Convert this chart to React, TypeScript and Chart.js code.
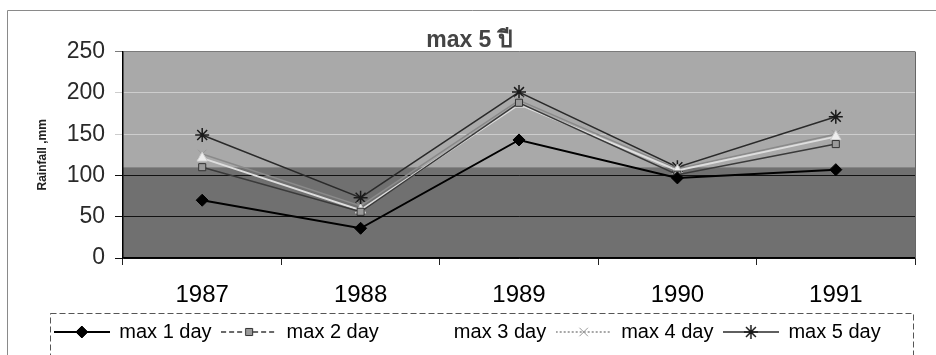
import React, { useEffect, useRef } from 'react';
import { Chart, registerables } from 'chart.js';
import { drawPoint } from 'chart.js/helpers';

Chart.register(...registerables);

const categories = ['1987', '1988', '1989', '1990', '1991'];
const max1Day = [70, 36, 143, 97, 107];
const max2Day = [110, 56, 188, 101, 138];
const max3Day = [121, 58, 186, 106, 147];
const max4Day = [126, 63, 191, 108, 150];
const max5Day = [149, 73, 201, 110, 171];
const seriesNames = ['max 1 day', 'max 2 day', 'max 3 day', 'max 4 day', 'max 5 day'];
const yTickValues = [0, 50, 100, 150, 200, 250];
const chartTitle = 'max 5 ปี';
const yAxisTitle = 'Rainfall ,mm';

const FONT = '"Liberation Sans", Arial, Helvetica, sans-serif';

type Style = {
  line: string;
  width: number;
  dash: number[];
  legendDash: number[];
  point: string;
  radius: number;
  bg: string;
  border: string;
};

const styles: Style[] = [
  { line: '#000000', width: 2, dash: [], legendDash: [], point: 'rectRot', radius: 6, bg: '#000000', border: '#000000' },
  { line: '#3a3a3a', width: 1.5, dash: [], legendDash: [5, 3], point: 'rect', radius: 5, bg: '#9a9a9a', border: '#333333' },
  { line: '#dedede', width: 2, dash: [], legendDash: [], point: 'triangle', radius: 6, bg: '#eeeeee', border: '#cfcfcf' },
  { line: '#8a8a8a', width: 1.5, dash: [], legendDash: [2, 2], point: 'crossRot', radius: 6, bg: '#aaaaaa', border: '#999999' },
  { line: '#2a2a2a', width: 1.5, dash: [], legendDash: [], point: 'star', radius: 7, bg: '#2a2a2a', border: '#1a1a1a' },
];

function makeIcon(s: Style, i: number): HTMLCanvasElement {
  const c = document.createElement('canvas');
  c.width = 56;
  c.height = 18;
  const ctx = c.getContext('2d')!;
  if (i !== 2) {
    ctx.strokeStyle = s.line;
    ctx.lineWidth = s.width;
    ctx.setLineDash(s.legendDash);
    ctx.beginPath();
    ctx.moveTo(0, 9);
    ctx.lineTo(56, 9);
    ctx.stroke();
    ctx.setLineDash([]);
    ctx.fillStyle = s.bg;
    ctx.strokeStyle = s.border;
    ctx.lineWidth = i === 4 ? 1.5 : 1;
    drawPoint(ctx, { pointStyle: s.point as any, radius: s.radius, borderWidth: 1, rotation: 0 } as any, 28, 9);
  }
  return c;
}

export default function App() {
  const ref = useRef<HTMLCanvasElement | null>(null);

  useEffect(() => {
    if (!ref.current) return;
    const seriesValues = [max1Day, max2Day, max3Day, max4Day, max5Day];
    const icons = styles.map((s, i) => makeIcon(s, i));

    const bgPlugin = {
      id: 'bgPlugin',
      beforeDraw(chart: any) {
        const { ctx, chartArea } = chart;
        const y = chart.scales.y;
        const split = y.getPixelForValue(110);
        ctx.save();
        ctx.fillStyle = '#a9a9a9';
        ctx.fillRect(chartArea.left, chartArea.top, chartArea.right - chartArea.left, split - chartArea.top);
        ctx.fillStyle = '#707070';
        ctx.fillRect(chartArea.left, split, chartArea.right - chartArea.left, chartArea.bottom - split);
        ctx.restore();
      },
      afterDraw(chart: any) {
        const { ctx, chartArea } = chart;
        ctx.save();
        ctx.strokeStyle = '#666666';
        ctx.lineWidth = 1;
        ctx.beginPath();
        ctx.moveTo(chartArea.right + 0.5, chartArea.top);
        ctx.lineTo(chartArea.right + 0.5, chartArea.bottom);
        ctx.stroke();
        ctx.strokeStyle = '#8a8a8a';
        ctx.setLineDash([]);
        ctx.beginPath();
        ctx.moveTo(7.5, 360);
        ctx.lineTo(7.5, 10.5);
        ctx.lineTo(940, 10.5);
        ctx.stroke();
        const lg = chart.legend;
        if (lg) {
          ctx.strokeStyle = '#555555';
          ctx.setLineDash([6, 3]);
          ctx.strokeRect(50.5, lg.top + 1.5, 863, 60);
        }
        ctx.restore();
      },
    };

    const shiftPlugin = {
      id: 'shiftPlugin',
      afterLayout(chart: any) {
        const t = chart.titleBlock;
        if (t) {
          t.left += 12;
          t.right += 12;
        }
        const lg = chart.legend;
        if (lg) {
          lg.left += 10;
          lg.right += 10;
        }
      },
    };

    const chart = new Chart(ref.current, {
      type: 'line',
      data: {
        labels: categories,
        datasets: seriesValues.map((vals, i) => ({
          label: seriesNames[i],
          data: vals,
          borderColor: styles[i].line,
          borderWidth: styles[i].width,
          borderDash: styles[i].dash,
          pointStyle: styles[i].point as any,
          pointRadius: styles[i].radius,
          pointBackgroundColor: styles[i].bg,
          pointBorderColor: styles[i].border,
          pointBorderWidth: i === 4 ? 1.5 : 1,
          tension: 0,
          fill: false,
        })),
      },
      options: {
        animation: false,
        responsive: true,
        maintainAspectRatio: false,
        layout: { padding: { left: 0, right: 21, top: 0, bottom: 3 } },
        plugins: {
          tooltip: { enabled: false },
          title: {
            display: true,
            text: chartTitle,
            color: '#444444',
            font: { family: FONT, size: 23, weight: 'bold' },
            padding: { top: 27, bottom: -3 },
          },
          legend: {
            display: true,
            position: 'bottom',
            labels: {
              usePointStyle: true,
              pointStyleWidth: 55,
              boxHeight: 20,
              padding: 10,
              color: '#000000',
              font: { family: FONT, size: 20 },
              generateLabels: (ch: any) =>
                ch.data.datasets.map((ds: any, i: number) => ({
                  text: ds.label,
                  pointStyle: icons[i],
                  fillStyle: 'transparent',
                  strokeStyle: 'transparent',
                  lineWidth: 0,
                  hidden: false,
                  datasetIndex: i,
                  fontColor: '#000000',
                })),
            },
          },
        },
        scales: {
          x: {
            offset: true,
            grid: {
              display: true,
              offset: true,
              drawOnChartArea: false,
              drawTicks: true,
              tickLength: 7,
              color: '#222222',
            },
            border: { display: true, color: '#000000', width: 1.5 },
            ticks: {
              color: '#000000',
              padding: 16,
              font: { family: FONT, size: 24 },
              maxRotation: 0,
            },
            afterFit(scale: any) {
              scale.height = 54;
            },
          },
          y: {
            min: 0,
            max: 250,
            afterBuildTicks(scale: any) {
              scale.ticks = yTickValues.map((v) => ({ value: v }));
            },
            grid: {
              drawTicks: true,
              tickLength: 8,
              color: (c: any) => {
                const v = c.tick ? c.tick.value : 0;
                if (v >= 250) return '#7a7a7a';
                if (v > 100) return '#cdcdcd';
                return '#111111';
              },
              lineWidth: 1,
            },
            border: { display: true, color: '#000000', width: 1.5 },
            ticks: {
              color: '#2a2a2a',
              padding: 10,
              font: { family: FONT, size: 23 },
            },
            title: {
              display: true,
              text: yAxisTitle,
              color: '#222222',
              font: { family: FONT, size: 12, weight: 'bold' },
              padding: { top: 35, bottom: 0 },
            },
            afterFit(scale: any) {
              scale.width = 123;
            },
          },
        },
      },
      plugins: [bgPlugin, shiftPlugin],
    } as any);

    return () => chart.destroy();
  }, []);

  return (
    <div style={{ position: 'absolute', left: 0, top: 0, width: 936, height: 355 }}>
      <canvas ref={ref} />
    </div>
  );
}
